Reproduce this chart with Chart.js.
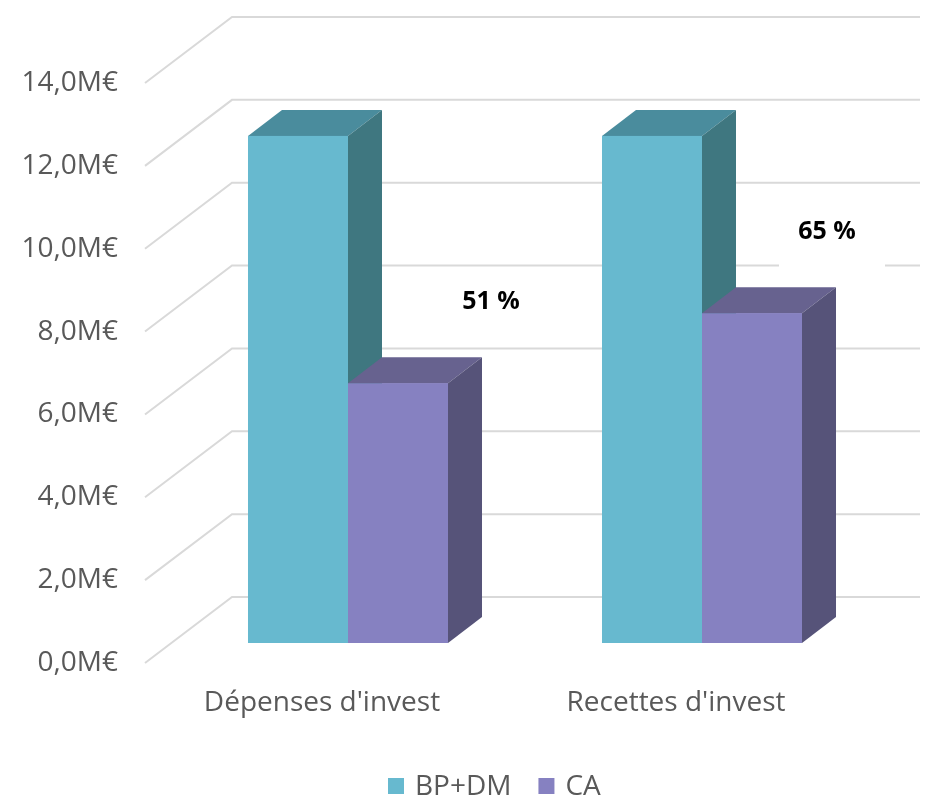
<!DOCTYPE html>
<html>
<head>
<meta charset="utf-8">
<script src="https://cdn.jsdelivr.net/npm/chart.js@4.4.1/dist/chart.umd.min.js"></script>
<style>
  html, body { margin: 0; padding: 0; background: #fff; }
  #wrap { width: 934px; height: 799px; }
</style>
</head>
<body>
<div id="wrap"><canvas id="mycanvas"></canvas></div>
<script>
// data
var categories = ["Dépenses d'invest", "Recettes d'invest"];
var bpdm = [12.24, 12.24];
var ca = [6.27, 7.96];
var pctLabels = ["51 %", "65 %"];
var yTicks = [0, 2, 4, 6, 8, 10, 12, 14];

var FONT = "'Open Sans', sans-serif";
var GREY = '#595959';

// 3d look: depth of the bars and of the whole floor
var barDx = 34, barDy = -26;
var frontDx = -26, frontDy = 20;   // front edge of floor vs bar face
var backDx = 61, backDy = -46;     // back wall vs bar face

var faces = [
  { front: '#67b9cf', top: '#4a8c9d', side: '#3f7780' },
  { front: '#8681c1', top: '#67628f', side: '#565379' }
];

var grid3d = {
  id: 'grid3d',
  beforeDatasetsDraw: function(chart) {
    var ctx = chart.ctx, y = chart.scales.y, a = chart.chartArea;
    ctx.save();
    ctx.strokeStyle = '#d9d9d9';
    ctx.lineWidth = 2;
    yTicks.forEach(function(v) {
      var yb = y.getPixelForValue(v);
      ctx.beginPath();
      ctx.moveTo(a.left + frontDx, yb + frontDy);
      ctx.lineTo(a.left + backDx, yb + backDy);
      ctx.lineTo(a.right + 41, yb + backDy);
      ctx.stroke();
      ctx.fillStyle = GREY;
      ctx.font = '28px ' + FONT;
      ctx.textAlign = 'right';
      ctx.textBaseline = 'middle';
      ctx.fillText(v.toFixed(1).replace('.', ',') + 'M€', 118, yb + frontDy);
    });
    // category labels on the front floor edge
    var x = chart.scales.x;
    ctx.font = '28px ' + FONT;
    ctx.textAlign = 'center';
    categories.forEach(function(c, i) {
      ctx.fillText(c, x.getPixelForValue(i) + frontDx, y.getPixelForValue(0) + 60);
    });
    ctx.restore();
  },
  afterDatasetsDraw: function(chart) {
    var ctx = chart.ctx;
    ctx.save();
    chart.data.datasets.forEach(function(ds, di) {
      var meta = chart.getDatasetMeta(di);
      var f = faces[di];
      meta.data.forEach(function(bar) {
        var l = bar.x - bar.width / 2, r = bar.x + bar.width / 2;
        var t = bar.y, b = bar.base;
        // top
        ctx.fillStyle = f.top;
        ctx.beginPath();
        ctx.moveTo(l, t); ctx.lineTo(l + barDx, t + barDy);
        ctx.lineTo(r + barDx, t + barDy); ctx.lineTo(r, t);
        ctx.closePath(); ctx.fill();
        // side
        ctx.fillStyle = f.side;
        ctx.beginPath();
        ctx.moveTo(r, t); ctx.lineTo(r + barDx, t + barDy);
        ctx.lineTo(r + barDx, b + barDy); ctx.lineTo(r, b);
        ctx.closePath(); ctx.fill();
        // front again so later bars sit over earlier sides
        ctx.fillStyle = f.front;
        ctx.fillRect(l, t, r - l, b - t);
      });
    });

    // percentage labels above the CA bars
    var caMeta = chart.getDatasetMeta(1);
    var labelDx = [93, 75];
    ctx.font = 'bold 25px ' + FONT;
    ctx.textAlign = 'center';
    ctx.textBaseline = 'middle';
    pctLabels.forEach(function(txt, i) {
      var bar = caMeta.data[i];
      var lx = bar.x + labelDx[i], ly = bar.y - 81;
      if (i === 1) {
        ctx.fillStyle = '#fff';
        ctx.fillRect(lx - 48, ly - 32, 106, 68);
      }
      ctx.fillStyle = '#000';
      ctx.fillText(txt, lx, ly);
    });

    // legend
    ctx.font = '28px ' + FONT;
    ctx.textAlign = 'left';
    var lx2 = 388, ly2 = 786;
    chart.data.datasets.forEach(function(ds, di) {
      ctx.fillStyle = ds.backgroundColor;
      ctx.fillRect(lx2, ly2 - 8, 16, 16);
      ctx.fillStyle = GREY;
      ctx.fillText(ds.label, lx2 + 27, ly2 + 1);
      lx2 += 27 + ctx.measureText(ds.label).width + 27;
    });
    ctx.restore();
  }
};

var chartdata = {
  labels: categories,
  datasets: [
    { label: 'BP+DM', data: bpdm, backgroundColor: faces[0].front, borderWidth: 0 },
    { label: 'CA', data: ca, backgroundColor: faces[1].front, borderWidth: 0 }
  ]
};

var barGraph = new Chart(document.getElementById('mycanvas'), {
  type: 'bar',
  data: chartdata,
  options: {
    responsive: true,
    maintainAspectRatio: false,
    animation: false,
    layout: { padding: { left: 171, right: 55, top: 63, bottom: 156 } },
    datasets: { bar: { categoryPercentage: 0.565, barPercentage: 1 } },
    scales: {
      x: { display: false },
      y: { display: false, min: 0, max: 14 }
    },
    plugins: {
      legend: { display: false },
      tooltip: { enabled: false }
    }
  },
  plugins: [grid3d]
});
</script>
</body>
</html>
